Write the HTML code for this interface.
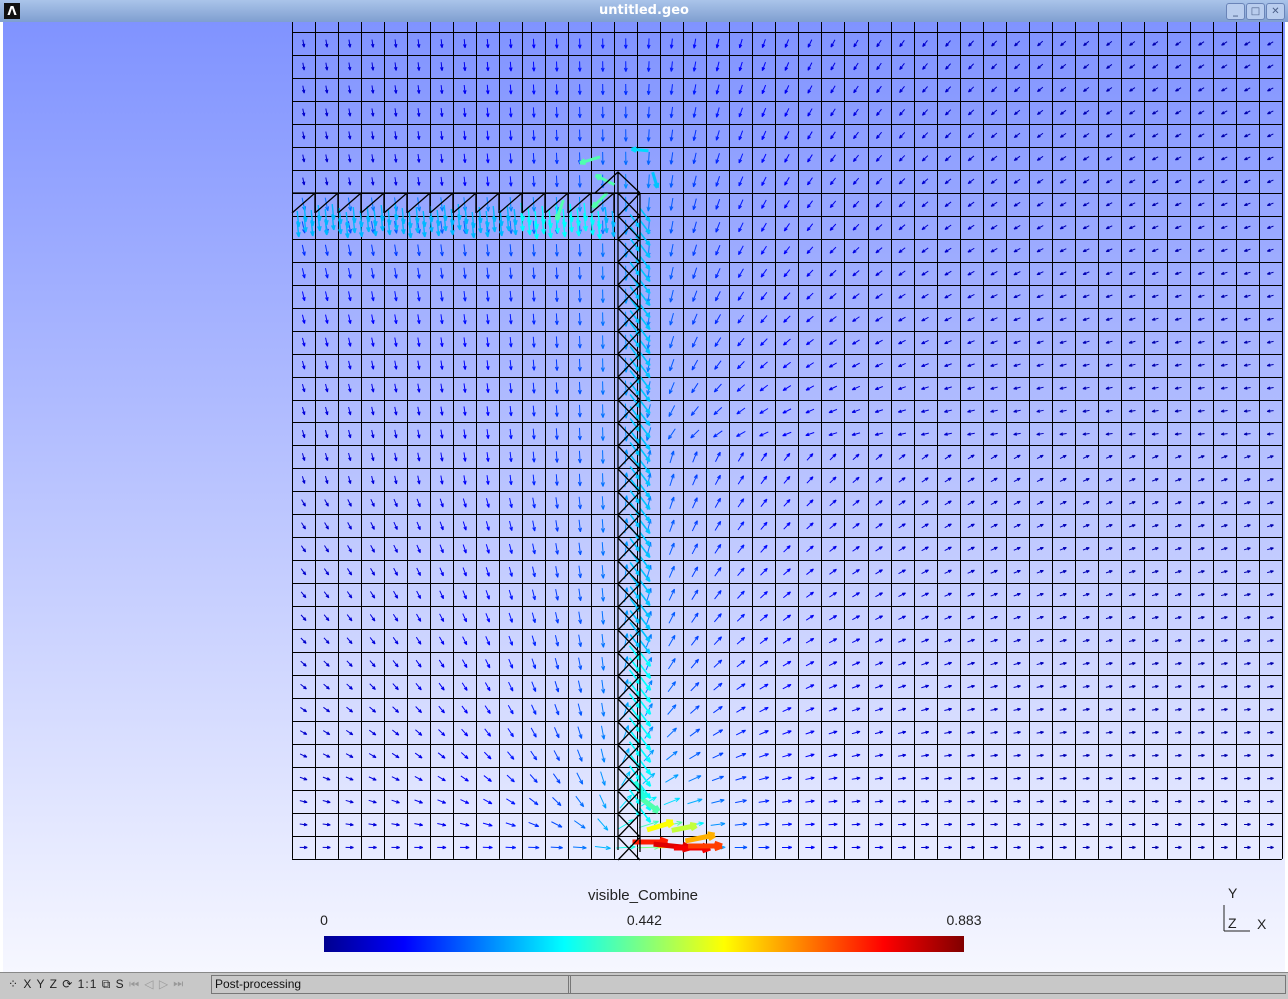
<!DOCTYPE html>
<html><head><meta charset="utf-8">
<style>
body{margin:0;width:1288px;height:998px;overflow:hidden;font-family:"Liberation Sans","DejaVu Sans",sans-serif;background:#fff}
#win{position:absolute;left:0;top:0;width:1288px;height:998px}
#title{position:absolute;left:0;top:0;width:1288px;height:22px;background:linear-gradient(#aac4ea,#7f9fd0);color:#fff;font:bold 13px "DejaVu Sans",sans-serif;text-align:center;line-height:22px}
#view{position:absolute;left:3px;top:22px;width:1282px;height:950px;background:linear-gradient(#8093ff,#f6f7ff)}
#status{position:absolute;left:0;top:972px;width:1288px;height:26px;background:#c8c8c8;border-top:1px solid #888;font-size:12px}
.btn{position:absolute;top:3px;width:17px;height:15px;border:1px solid #6a84b8;border-radius:3px;background:#b9cdee;color:#4a5f88;font-size:10px;text-align:center;line-height:15px}
</style></head><body>
<div id="win">
<div id="title">untitled.geo
 <div style="position:absolute;left:4px;top:3px;width:16px;height:16px;background:#111;color:#fff;font-size:12px;line-height:16px">Λ</div>
 <div class="btn" style="left:1226px">_</div>
 <div class="btn" style="left:1246px">□</div>
 <div class="btn" style="left:1266px">✕</div>
</div>
<div id="view"></div>
<svg id="svg" width="1288" height="998" style="position:absolute;left:0;top:0">
<defs><linearGradient id="jet" x1="0" x2="1">
<stop offset="0" stop-color="#00008f"/><stop offset="0.125" stop-color="#0000ff"/><stop offset="0.375" stop-color="#00ffff"/><stop offset="0.625" stop-color="#ffff00"/><stop offset="0.875" stop-color="#ff0000"/><stop offset="1" stop-color="#800000"/></linearGradient></defs>
<g id="grid"></g>
<g id="arrows"></g>
<g id="truss"></g>
<text x="643" y="900" font-size="15" text-anchor="middle" fill="#222">visible_Combine</text>
<rect x="324" y="936" width="640" height="16" fill="url(#jet)"/>
<g id="cbticks" font-size="14" fill="#222" text-anchor="middle"></g>
<g font-size="14" fill="#222">
<text x="1228" y="898">Y</text><text x="1228" y="928">Z</text><text x="1257" y="929">X</text>
<line x1="1224" y1="905" x2="1224" y2="931" stroke="#222"/><line x1="1224" y1="931" x2="1250" y2="931" stroke="#222"/>
</g>
</svg>
<div id="status">
<div style="position:absolute;left:8px;top:4px;letter-spacing:1px;color:#222">⁘ X Y Z ⟳ 1:1 ⧉ S <span style="color:#999">⏮ ◁ ▷ ⏭</span></div>
<div style="position:absolute;left:211px;top:2px;width:355px;height:17px;border:1px solid #777;line-height:17px;padding-left:3px;color:#111">Post-processing</div>
<div style="position:absolute;left:568px;top:2px;width:716px;height:17px;border:1px solid #777"></div>
</div>
</div>
<script>
const cbValues=[0,0.442,0.883];
const cbMin=0,cbMax=0.883;
const NS="http://www.w3.org/2000/svg";
function mk(t,a,p){const e=document.createElementNS(NS,t);for(const k in a)e.setAttribute(k,a[k]);p.appendChild(e);return e;}
const cbx=v=>324+(v-cbMin)/(cbMax-cbMin)*640;
const cbg=document.getElementById('cbticks');
cbValues.forEach(v=>{const t=mk('text',{x:cbx(v),y:925},cbg);t.textContent=String(v);

});
const X0=292,Y0=32,DX=23.02,DY=22.97,NC=43,NR=36;
const g=document.getElementById('grid');
let d='';
for(let i=0;i<=NC;i++){const x=Math.round(X0+i*DX)+0.5;d+=`M${x} 22V${Y0+NR*DY}`;}
for(let j=0;j<=NR;j++){const y=Math.round(Y0+j*DY)+0.5;d+=`M${X0} ${y}H${X0+NC*DX}`;}
mk('path',{d:d,stroke:'#000','stroke-width':1,fill:'none'},g);
const tr=document.getElementById('truss');let td='M293 193H640M618 193V850M640 193V852';
for(let x=292;x<610;x+=23)td+=`M${x} 213L${x+23} 193M${x+23} 193V213`;
for(let y=193;y<850;y+=23)td+=`M618 ${y}L640 ${y+23}M640 ${y}L618 ${y+23}`;
td+='M595 193L618 172L640 193M618 172V193';
mk('path',{d:td,stroke:'#000','stroke-width':1.3,fill:'none'},tr);
function jet(t){t=Math.max(0,Math.min(1,t));const f=(a)=>Math.round(255*Math.max(0,Math.min(1,1.5-Math.abs(4*t-a))));return `rgb(${f(3)},${f(2)},${f(1)})`;}
const ag=document.getElementById('arrows');
function arrow(cx,cy,dx,dy,m,w){
 const len=5+40*Math.min(m,1);
 const c=jet(m/0.883);
 const x1=cx-dx*len/2,y1=cy-dy*len/2,x2=cx+dx*len/2,y2=cy+dy*len/2;
 const h=1.8+4*Math.min(m,1);
 const a=mk('path',{d:`M${x1} ${y1}L${x2} ${y2}M${x2} ${y2}L${x2-dx*h*1.6-dy*h*0.6} ${y2-dy*h*1.6+dx*h*0.6}M${x2} ${y2}L${x2-dx*h*1.6+dy*h*0.6} ${y2-dy*h*1.6-dx*h*0.6}`,stroke:c,'stroke-width':w,fill:'none'},ag);
 
 
}
for(let i=0;i<NC;i++)for(let j=0;j<NR;j++){
 const cx=X0+(i+0.5)*DX,cy=Y0+(j+0.5)*DY;
 let dx,dy;
 if(cx<618){const tx=640-cx,ty=850-cy;dx=tx*0.6;dy=ty+(cy<500?300:0);}
 else{ if(cy>450){dx=cx-600;dy=-(850-cy)*0.6;} else{dx=-(cx-630);dy=(450-cy)*0.8+50;} }
 const L=Math.hypot(dx,dy)||1;dx/=L;dy/=L;
 const dBeam=Math.min(cx<640&&cy>190?Math.abs(cy-203):999,cy>190?Math.abs(cx-629):Math.hypot(cx-629,cy-190));
 let m=0.1+0.15*Math.exp(-dBeam/90)+0.4*Math.exp(-Math.hypot(cx-670,cy-845)/35)-0.06*Math.min(1,Math.abs(cx-629)/500);
 arrow(cx,cy,dx,dy,m,1);
}
for(let x=298;x<615;x+=7){for(let k=0;k<2;k++){const y=212+k*10+((x*7)%9);arrow(x,y,0.1,1,0.27+(x>520&&x<600?0.06:0),1.4);}}
for(let y=215;y<820;y+=6){const x=630+((y*5)%20);arrow(x,y,0.6,0.8,0.28+(y>650?0.05:0),1.6);}
const hot=[[650,842,1,0,0.75],[672,846,1,0.1,0.8],[692,848,1,0,0.78],[700,838,1,-0.2,0.62],[660,826,1,-0.3,0.55],[684,828,1,-0.2,0.5],[650,805,0.8,0.6,0.4],[640,790,0.5,0.8,0.36],[705,846,1,0,0.72]];
hot.forEach(h=>{const L=Math.hypot(h[2],h[3]);arrow(h[0],h[1],h[2]/L,h[3]/L,h[4],5);});
const curl=[[590,160,-1,0.3,0.4],[605,180,-1,-0.5,0.4],[600,200,-0.7,0.7,0.4],[560,210,-0.3,0.9,0.4],[640,150,-1,-0.1,0.3],[655,180,0.3,1,0.28]];
curl.forEach(h=>{const L=Math.hypot(h[2],h[3]);arrow(h[0],h[1],h[2]/L,h[3]/L,h[4],3);});
</script>
</body></html>
